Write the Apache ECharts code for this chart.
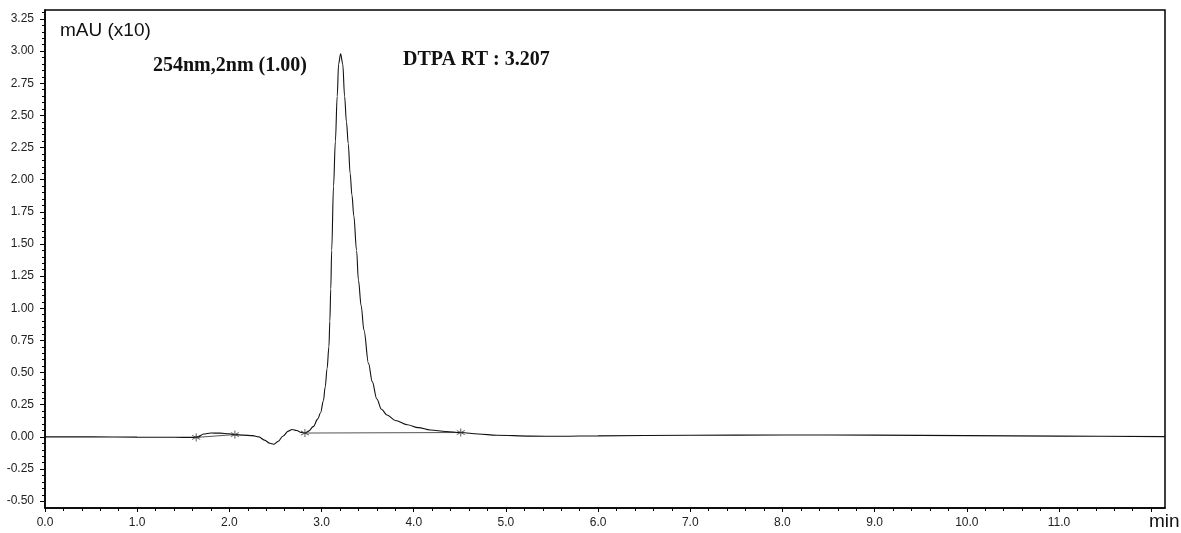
<!DOCTYPE html>
<html>
<head>
<meta charset="utf-8">
<script src="https://cdn.jsdelivr.net/npm/echarts@6/dist/echarts.min.js"></script>
<style>
html,body{margin:0;padding:0;background:#fff;}
#chart{width:1181px;height:533px;}
</style>
</head>
<body>
<div id="chart"></div>
<script>
// Retention time (min)
var times = [0.0, 0.5, 1.0, 1.4, 1.6, 1.66, 1.72, 1.8, 1.9, 2.0, 2.06, 2.15, 2.25, 2.32, 2.38, 2.44, 2.48, 2.53, 2.58, 2.64, 2.68, 2.73, 2.78, 2.82, 2.86, 2.91, 2.96, 2.99, 3.02, 3.04, 3.06, 3.08, 3.09, 3.10, 3.11, 3.13, 3.15, 3.17, 3.185, 3.207, 3.23, 3.25, 3.27, 3.29, 3.31, 3.33, 3.35, 3.38, 3.40, 3.43, 3.46, 3.51, 3.55, 3.60, 3.65, 3.71, 3.80, 3.93, 4.05, 4.18, 4.35, 4.51, 4.70, 4.90, 5.27, 5.6, 6.0, 7.0, 8.0, 9.0, 10.0, 11.0, 12.15];
// Absorbance (mAU x10)
var signal = [0.0, 0.0, -0.002, -0.003, -0.004, 0.0, 0.022, 0.030, 0.029, 0.024, 0.018, 0.014, 0.010, 0.0, -0.025, -0.05, -0.057, -0.035, 0.005, 0.045, 0.058, 0.05, 0.035, 0.03, 0.045, 0.08, 0.14, 0.19, 0.28, 0.39, 0.53, 0.70, 0.90, 1.15, 1.45, 1.95, 2.30, 2.65, 2.90, 2.98, 2.90, 2.65, 2.45, 2.28, 2.05, 1.88, 1.72, 1.45, 1.22, 1.02, 0.83, 0.57, 0.43, 0.295, 0.215, 0.17, 0.128, 0.095, 0.072, 0.054, 0.042, 0.034, 0.022, 0.013, 0.006, 0.005, 0.008, 0.013, 0.015, 0.014, 0.010, 0.006, 0.002];
// Integration baselines (start/end points)
var baseline1 = [[1.64, -0.004], [2.06, 0.018]];
var baseline2 = [[2.82, 0.03], [4.51, 0.034]];
var peakMarks = [[1.64, -0.004], [2.06, 0.018], [2.82, 0.03], [4.51, 0.034]];
// Axis ticks
var xMajorTicks = [0,1,2,3,4,5,6,7,8,9,10,11,12];
var xLabelTicks = [0,1,2,3,4,5,6,7,8,9,10,11];
var xMinorTicks = [];
for (var i = 0; i <= 60; i++) xMinorTicks.push(+(i*0.2).toFixed(2));
var yMajorTicks = [-0.5,-0.25,0,0.25,0.5,0.75,1.0,1.25,1.5,1.75,2.0,2.25,2.5,2.75,3.0,3.25];
var yMinorTicks = [];
for (var j = -10; j <= 66; j++) yMinorTicks.push(+(j*0.05).toFixed(2));

var trace = times.map(function(t, k){ return [t, signal[k]]; });
var X_MIN = 0, X_MAX = 12.15, Y_MIN = -0.553, Y_MAX = 3.32;

var chart = echarts.init(document.getElementById('chart'), null, {renderer:'canvas'});
var labelFont = {fontFamily:'Liberation Sans, Arial, sans-serif', fontSize:12, color:'#222'};
chart.setOption({
  animation:false,
  backgroundColor:'#fff',
  grid:{left:45, right:16, top:10, bottom:25, show:true, borderColor:'#000', borderWidth:1.5, containLabel:false},
  xAxis:[{
    type:'value', min:X_MIN, max:X_MAX, position:'bottom',
    axisLine:{show:true, onZero:false, lineStyle:{color:'#000', width:1.5}},
    axisTick:{show:true, inside:false, length:4, customValues:xMajorTicks, lineStyle:{color:'#000'}},
    axisLabel:Object.assign({show:true, margin:9, customValues:xLabelTicks, formatter:function(v){return v.toFixed(1);}}, labelFont),
    splitLine:{show:false}
  },{
    type:'value', min:X_MIN, max:X_MAX, position:'bottom',
    axisLine:{show:false, onZero:false},
    axisTick:{show:true, inside:false, length:3, customValues:xMinorTicks, lineStyle:{color:'#000'}},
    axisLabel:{show:false},
    splitLine:{show:false}
  }],
  yAxis:[{
    type:'value', min:Y_MIN, max:Y_MAX, position:'left',
    axisLine:{show:true, onZero:false, lineStyle:{color:'#000', width:1.5}},
    axisTick:{show:true, inside:false, length:5, customValues:yMajorTicks, lineStyle:{color:'#000'}},
    axisLabel:Object.assign({show:true, margin:11, customValues:yMajorTicks, formatter:function(v){return v.toFixed(2);}}, labelFont),
    splitLine:{show:false}
  },{
    type:'value', min:Y_MIN, max:Y_MAX, position:'left',
    axisLine:{show:false, onZero:false},
    axisTick:{show:true, inside:false, length:3, customValues:yMinorTicks, lineStyle:{color:'#000'}},
    axisLabel:{show:false},
    splitLine:{show:false}
  }],
  graphic:[
    {type:'text', left:60, top:21, style:{text:'mAU (x10)', fontFamily:'Liberation Sans, Arial, sans-serif', fontSize:19, fill:'#111'}},
    {type:'text', left:1149, top:512, style:{text:'min', fontFamily:'Liberation Sans, Arial, sans-serif', fontSize:19, fill:'#111'}},
    {type:'text', left:153, top:56, style:{text:'254nm,2nm (1.00)', fontFamily:'Liberation Serif, Times New Roman, serif', fontWeight:'bold', fontSize:20, fill:'#111'}},
    {type:'text', left:403, top:50, style:{text:'DTPA RT : 3.207', fontFamily:'Liberation Serif, Times New Roman, serif', fontWeight:'bold', fontSize:20, fill:'#111'}}
  ],
  series:[
    {type:'line', data:baseline1, xAxisIndex:0, yAxisIndex:0, showSymbol:false, lineStyle:{color:'#555', width:1}, z:2},
    {type:'line', data:baseline2, xAxisIndex:0, yAxisIndex:0, showSymbol:false, lineStyle:{color:'#555', width:1}, z:2},
    {type:'line', data:trace, xAxisIndex:0, yAxisIndex:0, showSymbol:false, smooth:0.35, smoothMonotone:'x', lineStyle:{color:'#111', width:1.1}, z:3},
    {type:'scatter', data:peakMarks, xAxisIndex:0, yAxisIndex:0, symbol:'path://M5,0L5,10M0.7,2.5L9.3,7.5M0.7,7.5L9.3,2.5', symbolSize:8,
      itemStyle:{color:'none', borderColor:'#333', borderWidth:1}, z:4}
  ]
});
</script>
</body>
</html>
